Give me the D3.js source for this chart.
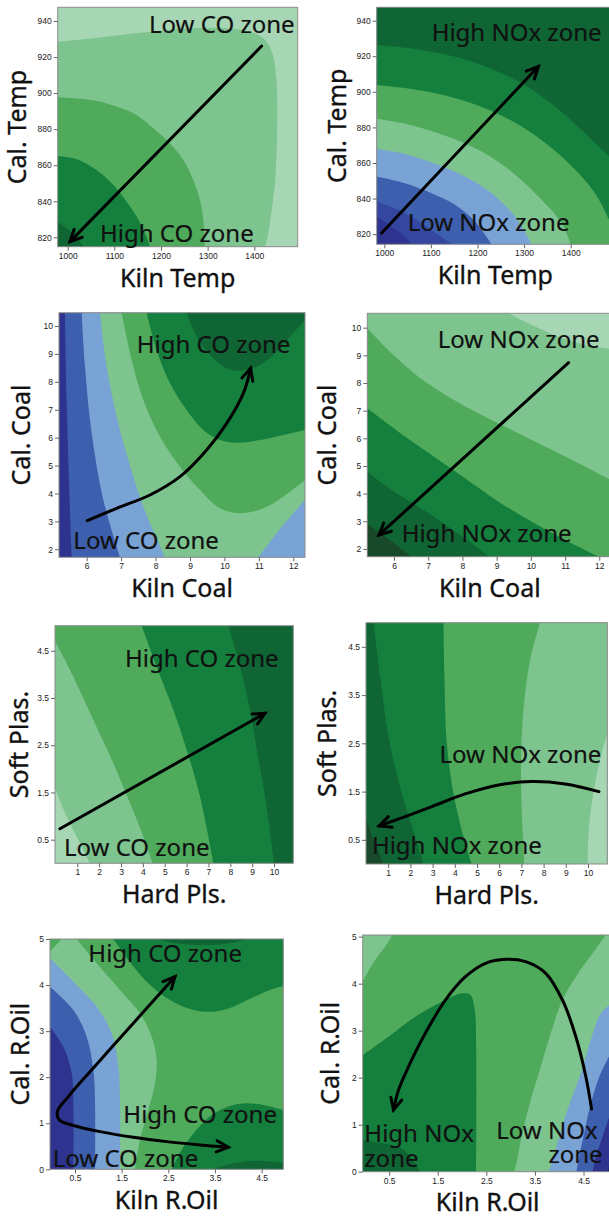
<!DOCTYPE html>
<html><head><meta charset="utf-8">
<script src="https://cdn.jsdelivr.net/npm/d3@7"></script>
<style>body{margin:0;background:#fff}svg{display:block}</style>
</head><body>
<svg id="chart" width="609" height="1217"></svg>
<script>
// ---------------- DATA ----------------
// Panel 1: CO, Kiln Temp vs Cal. Temp
const p1XDomain = [978.6, 1493], p1YDomain = [814.8, 947.6];
const p1XTicks = [1000, 1100, 1200, 1300, 1400];
const p1YTicks = [820, 840, 860, 880, 900, 920, 940];
const p1Bands = [
  {level: "G2", pts: [[978.6,928.5],[1069.3,930.9],[1176.4,934.1],[1255,935.9],[1340.7,935.9],[1397.9,933.5],[1426.4,928.5],[1440.7,920.2],[1447.9,905.4],[1449.3,886.9],[1447.9,868.4],[1444.3,850],[1437.1,835.2],[1430,822.2],[1422.9,814.8]], close: ["bl"]},
  {level: "G3", pts: [[978.6,897.7],[1033.6,896.7],[1083.6,894.3],[1140.7,888.8],[1183.6,880.5],[1219.3,872.1],[1247.9,862.9],[1269.3,851.8],[1283.6,840.7],[1290.7,829.6],[1294.3,814.8]], close: ["bl"]},
  {level: "G4", pts: [[978.6,865.1],[1019.3,863.3],[1062.1,857.3],[1097.9,849.0],[1126.4,839.8],[1147.9,831.5],[1165.7,822.2],[1176.4,814.8]], close: ["bl"]},
  {level: "G5", pts: [[978.6,828.7],[997.9,825],[1019.3,820],[1033.6,814.8]], close: ["bl"]}
];
const p1Arrows = [{pts: [[1415.7,926.1],[1005,817.6]], heads: ["end"]}];
const p1Labels = [[["Low CO zone",1174.3,933.2]],[["High CO zone",1069.3,817.6]]];

// Panel 2: NOx, Kiln Temp vs Cal. Temp
const p2XDomain = [983.7, 1493], p2YDomain = [814.3, 947.5];
const p2XTicks = [1000, 1100, 1200, 1300, 1400];
const p2YTicks = [820, 840, 860, 880, 900, 920, 940];
const p2Bands = [
  {level: "B3", pts: [[983.7,829.9],[1015.7,824.3],[1044.4,818.3],[1058.7,814.3]], close: ["br","tr","tl"]},
  {level: "B2", pts: [[983.7,838.4],[1030.1,833.7],[1080.1,826.2],[1115.9,819.6],[1144.5,814.3]], close: ["br","tr","tl"]},
  {level: "B1", pts: [[983.7,852.4],[1044.4,848.6],[1101.6,843.0],[1151.7,836.5],[1194.6,827.1],[1230.4,814.3]], close: ["br","tr","tl"]},
  {level: "G2", pts: [[983.7,867.9],[1044.4,865.1],[1115.9,858.9],[1173.2,852.4],[1230.4,843.0],[1280.5,829.9],[1316.3,814.3]], close: ["br","tr","tl"]},
  {level: "G3", pts: [[983.7,884.8],[1044.4,882.0],[1115.9,876.7],[1187.5,869.2],[1259,858.0],[1330.6,841.2],[1380.7,826.2],[1400,814.3]], close: ["br","tr","tl"]},
  {level: "G4", pts: [[983.7,903.9],[1080.1,900.7],[1187.5,893.6],[1294.8,880.5],[1387.8,861.8],[1452.2,843.0],[1482.3,828.1],[1509.5,814.3]], close: ["br","tr","tl"]},
  {level: "G5", pts: [[983.7,926.3],[1080.1,923.5],[1187.5,917.0],[1294.8,904.8],[1366.4,891.7],[1437.9,874.9],[1482.3,863.6],[1516.6,852.4]], close: ["br","tr","tl"]}
];
const p2Arrows = [{pts: [[994.3,820.6],[1330.6,914.2]], heads: ["end"]}];
const p2Labels = [[["High NOx zone",1101.6,928.8]],[["Low NOx zone",1050.1,821.9]]];

// Panel 3: CO, Kiln Coal vs Cal. Coal
const p3XDomain = [5.197, 12.339], p3YDomain = [1.713, 10.478];
const p3XTicks = [6, 7, 8, 9, 10, 11, 12];
const p3YTicks = [2, 3, 4, 5, 6, 7, 8, 9, 10];
const p3Bands = [
  {level: "B2", pts: [[5.371,10.478],[5.419,7.349],[5.487,4.364],[5.565,1.713]], close: ["br","tr"]},
  {level: "B1", pts: [[5.855,10.478],[5.952,8.543],[6.145,6.155],[6.484,3.767],[6.968,1.713]], close: ["br","tr"]},
  {level: "G2", pts: [[6.387,10.478],[6.581,8.543],[6.871,6.752],[7.210,5.2],[7.645,3.528],[8.274,1.713]], close: ["br","tr"]},
  {level: "B1", pts: [[10.984,1.713],[11.516,2.573],[12.0,3.289],[12.339,3.767]], close: ["br"]},
  {level: "G3", pts: [[7.016,10.478],[7.307,8.782],[7.645,7.349],[8.129,6.036],[8.710,4.961],[9.290,4.125],[9.871,3.469],[10.452,3.289],[11.129,3.469],[11.710,3.887],[12.339,4.484]], close: ["tr"]},
  {level: "G4", pts: [[7.742,10.478],[8.032,9.140],[8.419,7.946],[8.903,6.991],[9.387,6.275],[9.871,5.916],[10.355,5.821],[11.032,5.916],[11.710,6.095],[12.339,6.275]], close: ["tr"]},
  {level: "G5", pts: [[8.903,10.478],[9.194,9.618],[9.581,8.961],[10.065,8.484],[10.452,8.400],[10.936,8.543],[11.419,8.961],[11.903,9.618],[12.339,10.215]], close: ["tr"]}
];
const p3Arrows = [{pts: [[6.019,3.027],[6.871,3.469],[7.839,3.946],[8.710,4.603],[9.484,5.558],[10.065,6.513],[10.549,7.588],[10.761,8.484]], heads: ["end"]}];
const p3Labels = [[["High CO zone",7.452,9.021]],[["Low CO zone",5.613,2.0]]];

// Panel 4: NOx, Kiln Coal vs Cal. Coal
const p4XDomain = [5.22, 12.38], p4YDomain = [1.72, 10.52];
const p4XTicks = [6, 7, 8, 9, 10, 11, 12];
const p4YTicks = [2, 3, 4, 5, 6, 7, 8, 9, 10];
const p4Bands = [
  {level: "G2", pts: [[9.346,10.518],[10.029,10.096],[10.810,9.675],[11.590,9.373],[12.4,9.22]], close: ["br","bl","tl"]},
  {level: "G3", pts: [[5.220,9.976],[5.932,9.072],[6.712,8.229],[7.590,7.506],[8.566,6.843],[9.541,6.241],[10.517,5.639],[11.493,5.036],[12.4,4.45]], close: ["br","bl"]},
  {level: "G4", pts: [[5.220,7.084],[6.127,6.241],[7.102,5.398],[8.078,4.554],[9.054,3.711],[10.029,2.988],[11.005,2.325],[11.980,1.723]], close: ["bl"]},
  {level: "G5", pts: [[5.220,4.795],[5.932,4.133],[6.712,3.530],[7.590,2.807],[8.273,2.205],[8.761,1.723]], close: ["bl"]},
  {level: "G6", pts: [[5.220,2.904],[5.737,2.446],[6.127,2.084],[6.517,1.723]], close: ["bl"]}
];
const p4Arrows = [{pts: [[11.102,8.735],[5.561,2.506]], heads: ["end"]}];
const p4Labels = [[["Low NOx zone",7.278,9.277]],[["High NOx zone",6.224,2.241]]];

// Panel 5: CO, Hard Pls. vs Soft Plas.
const p5XDomain = [-0.02, 10.88], p5YDomain = [0, 5.03];
const p5XTicks = [1, 2, 3, 4, 5, 6, 7, 8, 9, 10];
const p5YTicks = [0.5, 1.5, 2.5, 3.5, 4.5];
const p5Bands = [
  {level: "G2", pts: [[-0.02,1.592],[0.512,0.993],[1.122,0.430],[1.580,0]], close: ["br","tr","tl"]},
  {level: "G3", pts: [[-0.02,4.711],[0.817,3.951],[1.732,3.035],[2.647,2.120],[3.410,1.275],[4.020,0.570],[4.447,0]], close: ["br","tr","tl"]},
  {level: "G4", pts: [[3.944,5.03],[4.630,4.162],[5.393,3.246],[6.003,2.401],[6.613,1.415],[7.223,0]], close: ["br","tr"]},
  {level: "G5", pts: [[7.910,5.03],[8.444,4.162],[8.901,3.246],[9.206,2.401],[9.588,1.415],[10.0,0]], close: ["br","tr"]}
];
const p5Arrows = [{pts: [[0.207,0.732],[9.588,3.176]], heads: ["end"]}];
const p5Labels = [[["High CO zone",3.181,4.162]],[["Low CO zone",0.390,0.162]]];

// Panel 6: NOx, Hard Pls. vs Soft Plas.
const p6XDomain = [0, 10.87], p6YDomain = [0, 5.0];
const p6XTicks = [1, 2, 3, 4, 5, 6, 7, 8, 9, 10];
const p6YTicks = [0.5, 1.5, 2.5, 3.5, 4.5];
const p6Bands = [
  {level: "G5", pts: [[0,0.948],[0.340,0.500],[0.790,0]], close: ["br","tr","tl"]},
  {level: "G4", pts: [[0.340,5.0],[0.640,3.879],[1.015,2.638],[1.615,1.466],[2.215,0.569],[2.590,0]], close: ["br","tr"]},
  {level: "G3", pts: [[3.490,5.0],[3.535,3.879],[3.640,2.500],[3.940,1.466],[4.390,0.569],[4.765,0]], close: ["br","tr"]},
  {level: "G2", pts: [[7.840,5.0],[7.390,4.224],[7.090,3.190],[6.985,2.155],[7.015,1.121],[7.135,0]], close: ["br","tr"]},
  {level: "G1", pts: [[10.87,2.707],[10.540,2.155],[10.240,1.466],[10.045,0.776],[9.985,0]], close: ["br"]}
];
const p6Arrows = [{pts: [[10.495,1.500],[8.965,1.659],[7.465,1.707],[5.965,1.638],[4.465,1.452],[2.965,1.190],[1.765,0.983],[0.595,0.790]], heads: ["end"]}];
const p6Labels = [[["Low NOx zone",3.310,2.086]],[["High NOx zone",0.265,0.203]]];

// Panel 7: CO, Kiln R.Oil vs Cal. R.Oil
const p7XDomain = [-0.036, 4.964], p7YDomain = [0, 5];
const p7XTicks = [0.5, 1.5, 2.5, 3.5, 4.5];
const p7YTicks = [0, 1, 2, 3, 4, 5];
const p7Bands = [
  {level: "B2", pts: [[-0.036,3.097],[0.25,2.663],[0.429,2.084],[0.464,1.360],[0.464,0]], close: ["br","tr","tl"]},
  {level: "B1", pts: [[-0.036,3.965],[0.464,3.459],[0.75,2.880],[0.893,2.156],[0.929,1.433],[0.929,0]], close: ["br","tr","tl"]},
  {level: "G2", pts: [[-0.036,4.580],[0.464,4.074],[0.964,3.531],[1.286,2.952],[1.429,2.229],[1.464,1.433],[1.464,0]], close: ["br","tr","tl"]},
  {level: "G3", pts: [[0.536,5],[0.964,4.472],[1.464,3.893],[1.893,3.386],[2.143,2.880],[2.25,2.373],[2.214,1.867],[2.071,1.288],[1.893,0.637],[1.786,0]], close: ["br","tr"]},
  {level: "G3", pts: [[-0.036,4.725],[0.214,5]], close: ["tl"]},
  {level: "G4", pts: [[1.321,5],[1.643,4.544],[2.036,4.074],[2.536,3.676],[3.036,3.459],[3.464,3.423],[3.893,3.531],[4.321,3.734],[4.679,3.893],[4.964,3.980]], close: ["tr"]},
  {level: "G5", pts: [[2.25,5],[2.679,4.906],[3.25,4.863],[3.821,4.906],[4.179,5]], close: []},
  {level: "G4", pts: [[2.571,0],[2.786,0.420],[3.071,0.818],[3.429,1.179],[3.821,1.375],[4.179,1.433],[4.536,1.397],[4.964,1.288]], close: ["br"]},
  {level: "G5", pts: [[3.464,0],[3.893,0.130],[4.393,0.188],[4.964,0.145]], close: ["br"]}
];
const p7Arrows = [{pts: [[2.643,4.182],[2.036,3.495],[1.393,2.771],[0.821,2.120],[0.357,1.578],[0.121,1.252],[0.164,1.071],[0.429,0.962],[1.036,0.818],[1.75,0.695],[2.464,0.601],[3.179,0.529],[3.786,0.478]], heads: ["start","end"]}];
const p7Labels = [[["High CO zone",0.786,4.508]],[["High CO zone",1.536,0.999]],[["Low CO zone",0.021,0.043]]];

// Panel 8: NOx, Kiln R.Oil vs Cal. R.Oil
const p8XDomain = [-0.044, 5.1], p8YDomain = [0, 5.035];
const p8XTicks = [0.5, 1.5, 2.5, 3.5, 4.5];
const p8YTicks = [0, 1, 2, 3, 4, 5];
const p8Bands = [
  {level: "G2", pts: [[-0.044,4.043],[0.211,4.504],[0.417,4.787],[0.569,5.035]], close: ["tl"]},
  {level: "G4", pts: [[-0.044,2.482],[0.486,2.872],[1.037,3.298],[1.657,3.652],[2.001,3.794],[2.173,3.759],[2.262,3.440],[2.290,2.730],[2.290,0]], close: ["bl"]},
  {level: "G5", pts: [[-0.044,0.674],[0.349,0.603],[0.762,0.496],[0.968,0.284],[1.140,0]], close: ["bl"]},
  {level: "G2", pts: [[4.961,5.035],[4.686,4.645],[4.342,4.149],[4.066,3.652],[3.825,2.943],[3.619,2.234],[3.412,1.525],[3.240,0.816],[3.102,0.106],[3.068,0]], close: ["br","tr"]},
  {level: "B1", pts: [[5.168,3.652],[4.858,3.369],[4.651,2.801],[4.445,2.092],[4.170,1.312],[3.963,0.603],[3.825,0.106],[3.777,0]], close: ["br"]},
  {level: "B2", pts: [[5.168,2.730],[4.824,2.021],[4.617,1.312],[4.514,0.816],[4.410,0.319],[4.355,0]], close: ["br"]},
  {level: "B4", pts: [[5.168,1.596],[4.892,0.745],[4.755,0.319],[4.686,0]], close: ["br"]},
  {level: "B5", pts: [[5.168,0.674],[4.996,0]], close: ["br"]}
];
const p8Arrows = [{pts: [[4.665,1.333],[4.548,2.021],[4.342,2.872],[4.066,3.652],[3.722,4.220],[3.309,4.468],[2.896,4.518],[2.483,4.433],[2.070,4.149],[1.657,3.652],[1.244,2.943],[0.899,2.234],[0.693,1.738],[0.590,1.312]], heads: ["end"]}];
const p8Labels = [[["High NOx",-0.01,0.638],["zone",-0.01,0.106]],[["Low NOx",2.703,0.688],["zone",3.777,0.177]]];

// ---------------- STYLE / LAYOUT ----------------
const COLORS = {G1:"#a6d6b3",G2:"#7dc48f",G3:"#4fab5b",G4:"#15803e",G5:"#0f6634",G6:"#17492a",
                B1:"#79a2d5",B2:"#3d5fae",B3:"#3446a0",B4:"#2d338e",B5:"#222661"};
const fmtInt = d3.format("d"), fmt1 = d3.format(".1f");

const panels = [
  {rect:{x:57.7,y:7.3,w:240,h:239.4}, xTitleOff:40, yTitleOff:32, bg:"G1", xDomain:p1XDomain, yDomain:p1YDomain, xTicks:p1XTicks, yTicks:p1YTicks, xFmt:fmtInt, yFmt:fmtInt, bands:p1Bands, arrows:p1Arrows, labels:p1Labels, xTitle:"Kiln Temp", yTitle:"Cal. Temp"},
  {rect:{x:376.7,y:7.3,w:237.3,h:237}, xTitleOff:39.5, yTitleOff:31, bg:"B4", xDomain:p2XDomain, yDomain:p2YDomain, xTicks:p2XTicks, yTicks:p2YTicks, xFmt:fmtInt, yFmt:fmtInt, bands:p2Bands, arrows:p2Arrows, labels:p2Labels, xTitle:"Kiln Temp", yTitle:"Cal. Temp"},
  {rect:{x:59,y:312.7,w:246,h:244.6}, xTitleOff:40, yTitleOff:29, bg:"B4", xDomain:p3XDomain, yDomain:p3YDomain, xTicks:p3XTicks, yTicks:p3YTicks, xFmt:fmtInt, yFmt:fmtInt, bands:p3Bands, arrows:p3Arrows, labels:p3Labels, xTitle:"Kiln Coal", yTitle:"Cal. Coal"},
  {rect:{x:367.3,y:313.3,w:245,h:243.4}, xTitleOff:40.5, yTitleOff:31, bg:"G1", xDomain:p4XDomain, yDomain:p4YDomain, xTicks:p4XTicks, yTicks:p4YTicks, xFmt:fmtInt, yFmt:fmtInt, bands:p4Bands, arrows:p4Arrows, labels:p4Labels, xTitle:"Kiln Coal", yTitle:"Cal. Coal"},
  {rect:{x:55,y:625.7,w:238.3,h:237.6}, xTitleOff:40, yTitleOff:27.5, bg:"G1", xDomain:p5XDomain, yDomain:p5YDomain, xTicks:p5XTicks, yTicks:p5YTicks, xFmt:fmtInt, yFmt:fmt1, bands:p5Bands, arrows:p5Arrows, labels:p5Labels, xTitle:"Hard Pls.", yTitle:"Soft Plas."},
  {rect:{x:366,y:622.7,w:241.3,h:241.3}, xTitleOff:39.5, yTitleOff:30, bg:"G6", xDomain:p6XDomain, yDomain:p6YDomain, xTicks:p6XTicks, yTicks:p6YTicks, xFmt:fmtInt, yFmt:fmt1, bands:p6Bands, arrows:p6Arrows, labels:p6Labels, xTitle:"Hard Pls.", yTitle:"Soft Plas."},
  {rect:{x:50,y:939,w:233.3,h:230.3}, xTitleOff:39.5, yTitleOff:21, bg:"B4", xDomain:p7XDomain, yDomain:p7YDomain, xTicks:p7XTicks, yTicks:p7YTicks, xFmt:fmt1, yFmt:fmtInt, bands:p7Bands, arrows:p7Arrows, labels:p7Labels, xTitle:"Kiln R.Oil", yTitle:"Cal. R.Oil"},
  {rect:{x:362.7,y:935,w:250,h:236.7}, xTitleOff:39, yTitleOff:24, bg:"G3", xDomain:p8XDomain, yDomain:p8YDomain, xTicks:p8XTicks, yTicks:p8YTicks, xFmt:fmt1, yFmt:fmtInt, bands:p8Bands, arrows:p8Arrows, labels:p8Labels, xTitle:"Kiln R.Oil", yTitle:"Cal. R.Oil"}
];

const svg = d3.select("#chart");
const defs = svg.append("defs");
const TEXT_FONT = "'Noto Sans', 'Open Sans', sans-serif";
const TICK_FONT = "'Liberation Sans', Arial, sans-serif";

function headPath(prev, tip) {
  const ang = Math.atan2(tip[1]-prev[1], tip[0]-prev[0]);
  const L = 13, a = 0.45;
  const p1 = [tip[0]-L*Math.cos(ang-a), tip[1]-L*Math.sin(ang-a)];
  const p2 = [tip[0]-L*Math.cos(ang+a), tip[1]-L*Math.sin(ang+a)];
  return `M${p1[0]},${p1[1]}L${tip[0]},${tip[1]}L${p2[0]},${p2[1]}`;
}

panels.forEach((P, i) => {
  const R = P.rect;
  const x = d3.scaleLinear().domain(P.xDomain).range([R.x, R.x + R.w]);
  const y = d3.scaleLinear().domain(P.yDomain).range([R.y + R.h, R.y]);
  const cid = "clip" + i;
  defs.append("clipPath").attr("id", cid).append("rect")
    .attr("x", R.x).attr("y", R.y).attr("width", R.w).attr("height", R.h);
  const g = svg.append("g").attr("clip-path", `url(#${cid})`);
  g.append("rect").attr("x", R.x).attr("y", R.y).attr("width", R.w).attr("height", R.h)
    .attr("fill", COLORS[P.bg]);
  const line = d3.line().x(d => x(d[0])).y(d => y(d[1])).curve(d3.curveCatmullRom.alpha(0.5));
  const corner = {bl:[P.xDomain[0],P.yDomain[0]], br:[P.xDomain[1],P.yDomain[0]],
                  tl:[P.xDomain[0],P.yDomain[1]], tr:[P.xDomain[1],P.yDomain[1]]};
  P.bands.forEach(b => {
    let d = line(b.pts);
    b.close.forEach(k => { const c = corner[k]; d += `L${x(c[0])},${y(c[1])}`; });
    d += "Z";
    g.append("path").attr("d", d).attr("fill", COLORS[b.level]);
  });

  // border
  svg.append("rect").attr("x", R.x).attr("y", R.y).attr("width", R.w).attr("height", R.h)
    .attr("fill", "none").attr("stroke", "#8a8a8a").attr("stroke-width", 1);

  // axes
  const xa = svg.append("g").attr("transform", `translate(0,${R.y + R.h})`)
    .call(d3.axisBottom(x).tickValues(P.xTicks).tickSize(4).tickPadding(2).tickFormat(P.xFmt));
  const ya = svg.append("g").attr("transform", `translate(${R.x},0)`)
    .call(d3.axisLeft(y).tickValues(P.yTicks).tickSize(4).tickPadding(2).tickFormat(P.yFmt));
  [xa, ya].forEach(a => {
    a.select(".domain").remove();
    a.selectAll("line").attr("stroke", "#666");
    a.selectAll("text").attr("font-family", TICK_FONT).attr("font-size", 8.5).attr("fill", "#222");
  });

  // titles
  svg.append("text").attr("x", R.x + R.w / 2).attr("y", R.y + R.h + P.xTitleOff)
    .attr("text-anchor", "middle").attr("font-family", TEXT_FONT).attr("font-size", 25)
    .attr("fill", "#111").attr("stroke", "#111").attr("stroke-width", 0.35).text(P.xTitle);
  svg.append("text").attr("transform", `translate(${R.x - P.yTitleOff},${R.y + R.h / 2}) rotate(-90)`)
    .attr("text-anchor", "middle").attr("font-family", TEXT_FONT).attr("font-size", 25)
    .attr("fill", "#111").attr("stroke", "#111").attr("stroke-width", 0.35).text(P.yTitle);

  // arrows
  P.arrows.forEach(A => {
    const px = A.pts.map(p => [x(p[0]), y(p[1])]);
    svg.append("path").attr("d", line(A.pts)).attr("fill", "none")
      .attr("stroke", "#000").attr("stroke-width", 3).attr("stroke-linecap", "round");
    A.heads.forEach(h => {
      const tip = h === "end" ? px[px.length - 1] : px[0];
      const prev = h === "end" ? px[px.length - 2] : px[1];
      svg.append("path").attr("d", headPath(prev, tip)).attr("fill", "none")
        .attr("stroke", "#000").attr("stroke-width", 3)
        .attr("stroke-linejoin", "miter").attr("stroke-linecap", "round");
    });
  });

  // zone labels (each label may span several lines -> tspans)
  P.labels.forEach(lines => {
    const t = svg.append("text").attr("font-family", TEXT_FONT).attr("font-size", 24)
      .attr("fill", "#111").attr("stroke", "#111").attr("stroke-width", 0.2);
    lines.forEach(L => {
      t.append("tspan").attr("x", x(L[1])).attr("y", y(L[2])).text(L[0]);
    });
  });
});
</script>
</body></html>
